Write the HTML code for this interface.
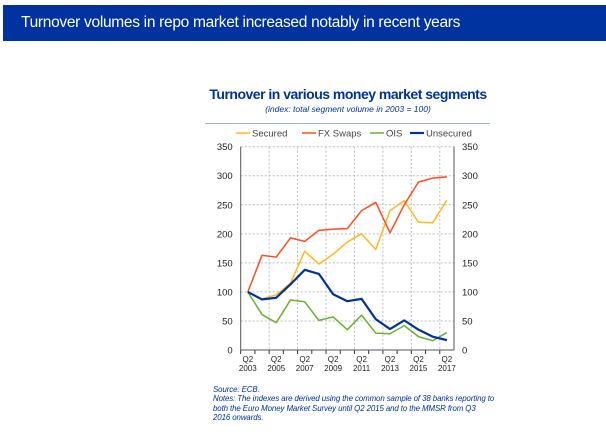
<!DOCTYPE html>
<html><head><meta charset="utf-8"><style>
body{margin:0;width:606px;height:434px;background:#fff;font-family:"Liberation Sans",sans-serif;overflow:hidden;position:relative}
#hdr{position:absolute;left:3px;top:5px;width:603px;height:36px;background:#0033a0;color:#fff;font-size:15.5px;line-height:36px;padding-left:18px;box-sizing:border-box;letter-spacing:-0.3px}
.t{position:absolute;color:#003299}
</style></head><body>
<div id="hdr">Turnover volumes in repo market increased notably in recent years</div>
<div class="t" style="left:195px;width:306px;top:86px;text-align:center;font-weight:bold;font-size:14px;letter-spacing:-0.5px">Turnover in various money market segments</div>
<div class="t" style="left:205px;width:286px;top:104px;text-align:center;font-style:italic;font-size:8.5px">(index: total segment volume in 2003 = 100)</div>
<div style="position:absolute;left:205px;top:123px;width:285px;height:1px;background:#9fb3e0"></div>
<svg id="c" width="606" height="434" style="position:absolute;left:0;top:0"></svg>
<div class="t" style="left:213px;top:385px;width:300px;white-space:nowrap;font-style:italic;font-size:7.9px;line-height:9.3px;letter-spacing:-0.1px">Source: ECB.<br>Notes: The indexes are derived using the common sample of 38 banks reporting to<br>both the Euro Money Market Survey until Q2 2015 and to the MMSR from Q3<br>2016 onwards.</div>
<script>
const years=[2003,2004,2005,2006,2007,2008,2009,2010,2011,2012,2013,2014,2015,2016,2017];
const secured=[100,88,95,115,170,148,165,186,200,173,240,257,220,219,258];
const fxSwaps=[100,163,160,193,187,206,208,209,240,254,202,250,289,296,298];
const ois=[100,61,47,86,83,51,57,35,60,29,28,42,23,16,30];
const unsecured=[100,87,90,113,138,131,96,84,88,53,36,51,35,23,17];
const yTicks=[0,50,100,150,200,250,300,350];
const NS='http://www.w3.org/2000/svg';
const svg=document.getElementById('c');
const L=240.7,R=454,T=146.7,B=350,ymax=350;
const cw=(R-L)/years.length;
const x=i=>L+cw*(i+0.5);
const y=v=>B-(v/ymax)*(B-T);
function mk(tag,a){const e=document.createElementNS(NS,tag);for(const k in a)e.setAttribute(k,a[k]);svg.appendChild(e);return e;}
yTicks.forEach(v=>{
 if(v>0){const g=mk('line',{x1:L,x2:R,y1:y(v),y2:y(v),stroke:'#bbb','stroke-dasharray':'2,2','stroke-width':1});
 }
 const a=mk('text',{x:L-8,y:y(v)+3.5,'text-anchor':'end','font-size':9.5,fill:'#222'});a.textContent=v;
 
 const b=mk('text',{x:R+8,y:y(v)+3.5,'text-anchor':'start','font-size':9.5,fill:'#222'});b.textContent=v;
 
});
years.forEach((yr,i)=>{
 const bx=L+cw*i;
 if(i>0&&i%2==0){const g=mk('line',{x1:bx,x2:bx,y1:T,y2:B,stroke:'#bbb','stroke-dasharray':'2,2'});
 }
 const tk=mk('line',{x1:bx,x2:bx,y1:B,y2:B+4,stroke:'#333'});
 
 if(i%2==0){const t=mk('text',{x:x(i),y:B+12,'text-anchor':'middle','font-size':8,fill:'#222'});
 
 t.innerHTML='<tspan x="'+x(i)+'">Q2</tspan><tspan x="'+x(i)+'" dy="9">'+yr+'</tspan>';}
});
[[L,T,L,B],[R,T,R,B],[L,B,R,B]].forEach(p=>{const a=mk('line',{x1:p[0],y1:p[1],x2:p[2],y2:p[3],stroke:'#555'});
 });
const series=[['Secured',secured,'#ffb81c',1.5],['FX Swaps',fxSwaps,'#ff4b1f',1.5],['OIS',ois,'#65b32e',1.5],['Unsecured',unsecured,'#003299',2.2]];
series.forEach(s=>{
 const p=mk('polyline',{points:s[1].map((v,i)=>x(i)+','+y(v)).join(' '),fill:'none',stroke:s[2],'stroke-width':s[3],'stroke-linejoin':'round'});
 
});
const lx=[236,302,370,410];
series.forEach((s,i)=>{
 const l=mk('line',{x1:lx[i],x2:lx[i]+14,y1:133,y2:133,stroke:s[2],'stroke-width':s[3]});
 
 const t=mk('text',{x:lx[i]+16,y:136.5,'font-size':9.5,fill:'#444'});t.textContent=s[0];
 
});
</script>
</body></html>
